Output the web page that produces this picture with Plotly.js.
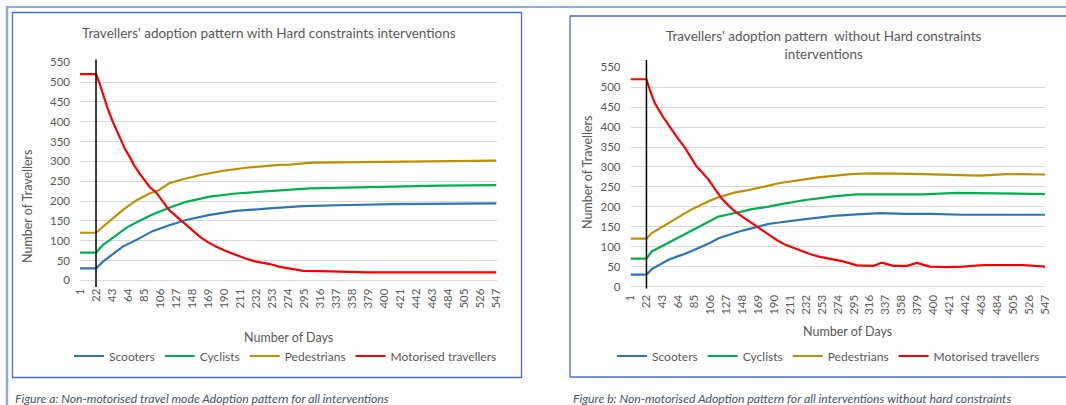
<!DOCTYPE html>
<html><head><meta charset="utf-8">
<script src="https://cdn.plot.ly/plotly-3.0.1.min.js"></script>
<style>html,body{margin:0;padding:0;background:#fff;}#chart{width:1066px;height:405px;}</style>
</head><body><div id="chart"></div>
<script>
// ---------- data ----------
const seriesNames = ['Scooters', 'Cyclists', 'Pedestrians', 'Motorised travellers'];
const seriesColors = ['#2E75B6', '#00B050', '#BF9000', '#FF0000'];
const interventionDay = 22;
const dayTicks = [1,22,43,64,85,106,127,148,169,190,211,232,253,274,295,316,337,358,379,400,421,442,463,484,505,526,547];
const yTicks = [0,50,100,150,200,250,300,350,400,450,500,550];

const titleA = "Travellers' adoption pattern with Hard constraints interventions";
const titleB = "Travellers' adoption pattern &nbsp;without Hard constraints<br>interventions";
const captionA = "Figure a: Non-motorised travel mode Adoption pattern for all interventions";
const captionB = "Figure b: Non-motorised Adoption pattern for all interventions without hard constraints";
const xTitle = "Number of Days";
const yTitle = "Number of Travellers";

// Figure a (with hard constraints)
const aScootersDay = [1,22,31,44,57,75,96,118,140,171,205,249,293,354,411,547];
const aScootersVal = [30,30,47,66,85,102,124,139,152,165,175,181.5,187,190,192,194];
const aCyclistsDay = [1,22,31,44,62,79,96,118,140,171,205,249,302,380,472,547];
const aCyclistsVal = [70,70,89,108,133,150,166,183,198,211,219,225,232,235,239,240];
const aPedDay = [1,22,31,44,57,75,92,105,118,136,162,188,219,262,275,306,337,367,481,547];
const aPedVal = [120,120,135,156,177,202,219,228,245,255,267,276,284,291,292,297,297.5,299,301,302];
const aMotorDay = [1,22,27,31,37,44,50,55,60,66,72,79,85,92,101,110,118,127,136,147,158,168,179,192,205,218,232,250,263,276,294,318,342,378,547];
const aMotorVal = [520,520,495,471,435,400,373,350,331,312,290,270,253,236,221,198,177,162,147,127,110,97,85,74,64,55,47,41,34,30,24,23,22,20,20];

// Figure b (without hard constraints)
const bScootersDay = [1,22,29,40,51,62,73,84,95,106,117,128,139,150,161,172,183,194,205,218,231,249,268,299,330,362,395,439,547];
const bScootersVal = [30,30,43.5,56,67,75,82,91,100,110,121,129,135,141,146,152,157,160,163,166,169,173,177,181,184,182,182,180,180];
const bCyclistsDay = [1,22,29,40,51,62,73,84,95,106,117,128,139,150,161,172,183,194,205,218,231,249,268,299,386,430,474,547];
const bCyclistsVal = [70,70,88,99,110,120,130,141,152,164,175.5,180,184,189,194,197,200.6,205,209,213,217,221,226,231,231,235,234,232];
const bPedDay = [1,22,29,40,51,62,73,84,95,106,117,128,139,154,170,183,196,212,227,248,268,291,316,330,351,386,417,461,496,547];
const bPedVal = [120,120,134,147,159,171,184,196,207,216,224,230,236,241,247,253,259,264,269,274,277.5,282,284,283,283,282,280,278,282,281];
const bMotorDay = [1,22,27,33,44,55,64,73,80,88,96,104,112,121,130,139,150,161,172,183,194,205,216,227,238,249,264,281,299,321,332,347,365,378,395,417,439,466,518,547];
const bMotorVal = [520,520,490,460,425,393,370,347,325,301,285,267.5,245,221.5,203,188,173,159,144,130,116,104.5,96,88,81,75,70,63,53,52,60,52,52,59,50,48.5,50,54,54,50];

// ---------- build ----------
const W = 1066, H = 405;
const px = x => x / W;
const py = y => 1 - y / H;
const FONT = 'Lato, "Open Sans", sans-serif';
const GREY = '#595959';

const seriesA = [[aScootersDay, aScootersVal],[aCyclistsDay, aCyclistsVal],[aPedDay, aPedVal],[aMotorDay, aMotorVal]];
const seriesB = [[bScootersDay, bScootersVal],[bCyclistsDay, bCyclistsVal],[bPedDay, bPedVal],[bMotorDay, bMotorVal]];

const traces = [];
seriesA.forEach((s, i) => traces.push({
  x: s[0], y: s[1], type: 'scatter', mode: 'lines', name: seriesNames[i],
  line: {color: seriesColors[i], width: 2.2}, xaxis: 'x', yaxis: 'y', legend: 'legend', hoverinfo: 'skip'
}));
seriesB.forEach((s, i) => traces.push({
  x: s[0], y: s[1], type: 'scatter', mode: 'lines', name: seriesNames[i],
  line: {color: seriesColors[i], width: 2.2}, xaxis: 'x2', yaxis: 'y2', legend: 'legend2', hoverinfo: 'skip'
}));

function xAxis(domain, anchor) {
  return {domain: domain, anchor: anchor, range: [1, 547], tickmode: 'array', tickvals: dayTicks,
    ticktext: dayTicks.map(String), tickangle: -90, showgrid: false, zeroline: false, showline: false,
    ticks: '', ticklabelstandoff: 5, tickfont: {family: FONT, size: 11.5, color: GREY}, fixedrange: true};
}
function yAxis(domain, anchor) {
  return {domain: domain, anchor: anchor, range: [0, 550], tickmode: 'array', tickvals: yTicks,
    showgrid: true, gridcolor: '#D9D9D9', gridwidth: 1, zeroline: true, zerolinecolor: '#D9D9D9', zerolinewidth: 1,
    showline: false, ticks: '', ticklabelstandoff: 9, tickfont: {family: FONT, size: 11.5, color: GREY}, fixedrange: true};
}

const legendBase = {orientation: 'h', xanchor: 'left', yanchor: 'middle', bgcolor: 'rgba(0,0,0,0)',
  font: {family: FONT, size: 12, color: GREY}, traceorder: 'normal', borderwidth: 0};

const layout = {
  width: W, height: H, margin: {l: 0, r: 0, t: 0, b: 0}, paper_bgcolor: '#fff', plot_bgcolor: 'rgba(0,0,0,0)',
  showlegend: true,
  xaxis: xAxis([px(80), px(496.5)], 'y'),
  yaxis: yAxis([py(280.3), py(62.3)], 'x'),
  xaxis2: xAxis([px(630.5), px(1045.2)], 'y2'),
  yaxis2: yAxis([py(286.5), py(67.3)], 'x2'),
  legend: Object.assign({}, legendBase, {x: px(69), y: py(356)}),
  legend2: Object.assign({}, legendBase, {x: px(612), y: py(356)}),
  shapes: [
    // outer page decoration
    {type: 'line', xref: 'paper', yref: 'paper', x0: px(6), x1: px(1066), y0: py(7), y1: py(7), line: {color: '#8EA9DB', width: 2}},
    {type: 'line', xref: 'paper', yref: 'paper', x0: px(7), x1: px(7), y0: py(6), y1: py(405), line: {color: '#8EA9DB', width: 2.5}},
    // chart frames
    {type: 'rect', xref: 'paper', yref: 'paper', x0: px(12.5), x1: px(521.5), y0: py(377.5), y1: py(12.5), line: {color: '#4472C4', width: 1.3}},
    {type: 'rect', xref: 'paper', yref: 'paper', x0: px(570), x1: px(1075), y0: py(377), y1: py(16), line: {color: '#4472C4', width: 1.3}},
    // intervention lines
    {type: 'line', xref: 'x', yref: 'y domain', x0: interventionDay, x1: interventionDay, y0: -0.031, y1: 1.013, line: {color: '#000', width: 1.5}},
    {type: 'line', xref: 'x2', yref: 'y2 domain', x0: interventionDay, x1: interventionDay, y0: -0.009, y1: 1.033, line: {color: '#000', width: 1.5}}
  ],
  annotations: [
    {text: titleA, xref: 'paper', yref: 'paper', x: px(268.5), y: py(33), xanchor: 'center', yanchor: 'middle', showarrow: false, font: {family: FONT, size: 13.5, color: GREY}},
    {text: titleB, xref: 'paper', yref: 'paper', x: px(824), y: py(44.7), xanchor: 'center', yanchor: 'middle', showarrow: false, font: {family: FONT, size: 13.5, color: GREY}},
    {text: xTitle, xref: 'paper', yref: 'paper', x: px(288), y: py(337), xanchor: 'center', yanchor: 'middle', showarrow: false, font: {family: FONT, size: 12.5, color: GREY}},
    {text: xTitle, xref: 'paper', yref: 'paper', x: px(847), y: py(331), xanchor: 'center', yanchor: 'middle', showarrow: false, font: {family: FONT, size: 12.5, color: GREY}},
    {text: yTitle, xref: 'paper', yref: 'paper', x: px(27), y: py(206), xanchor: 'center', yanchor: 'middle', textangle: -90, showarrow: false, font: {family: FONT, size: 12.5, color: GREY}},
    {text: yTitle, xref: 'paper', yref: 'paper', x: px(587), y: py(172), xanchor: 'center', yanchor: 'middle', textangle: -90, showarrow: false, font: {family: FONT, size: 12.5, color: GREY}},
    {text: '<i>' + captionA + '</i>', xref: 'paper', yref: 'paper', x: px(13), y: py(398), xanchor: 'left', yanchor: 'middle', showarrow: false, font: {family: FONT, size: 12.2, color: '#44546A'}},
    {text: '<i>' + captionB + '</i>', xref: 'paper', yref: 'paper', x: px(570.5), y: py(398), xanchor: 'left', yanchor: 'middle', showarrow: false, font: {family: FONT, size: 12.2, color: '#44546A'}}
  ]
};

Plotly.newPlot('chart', traces, layout, {staticPlot: true, displayModeBar: false});
</script>
</body></html>
